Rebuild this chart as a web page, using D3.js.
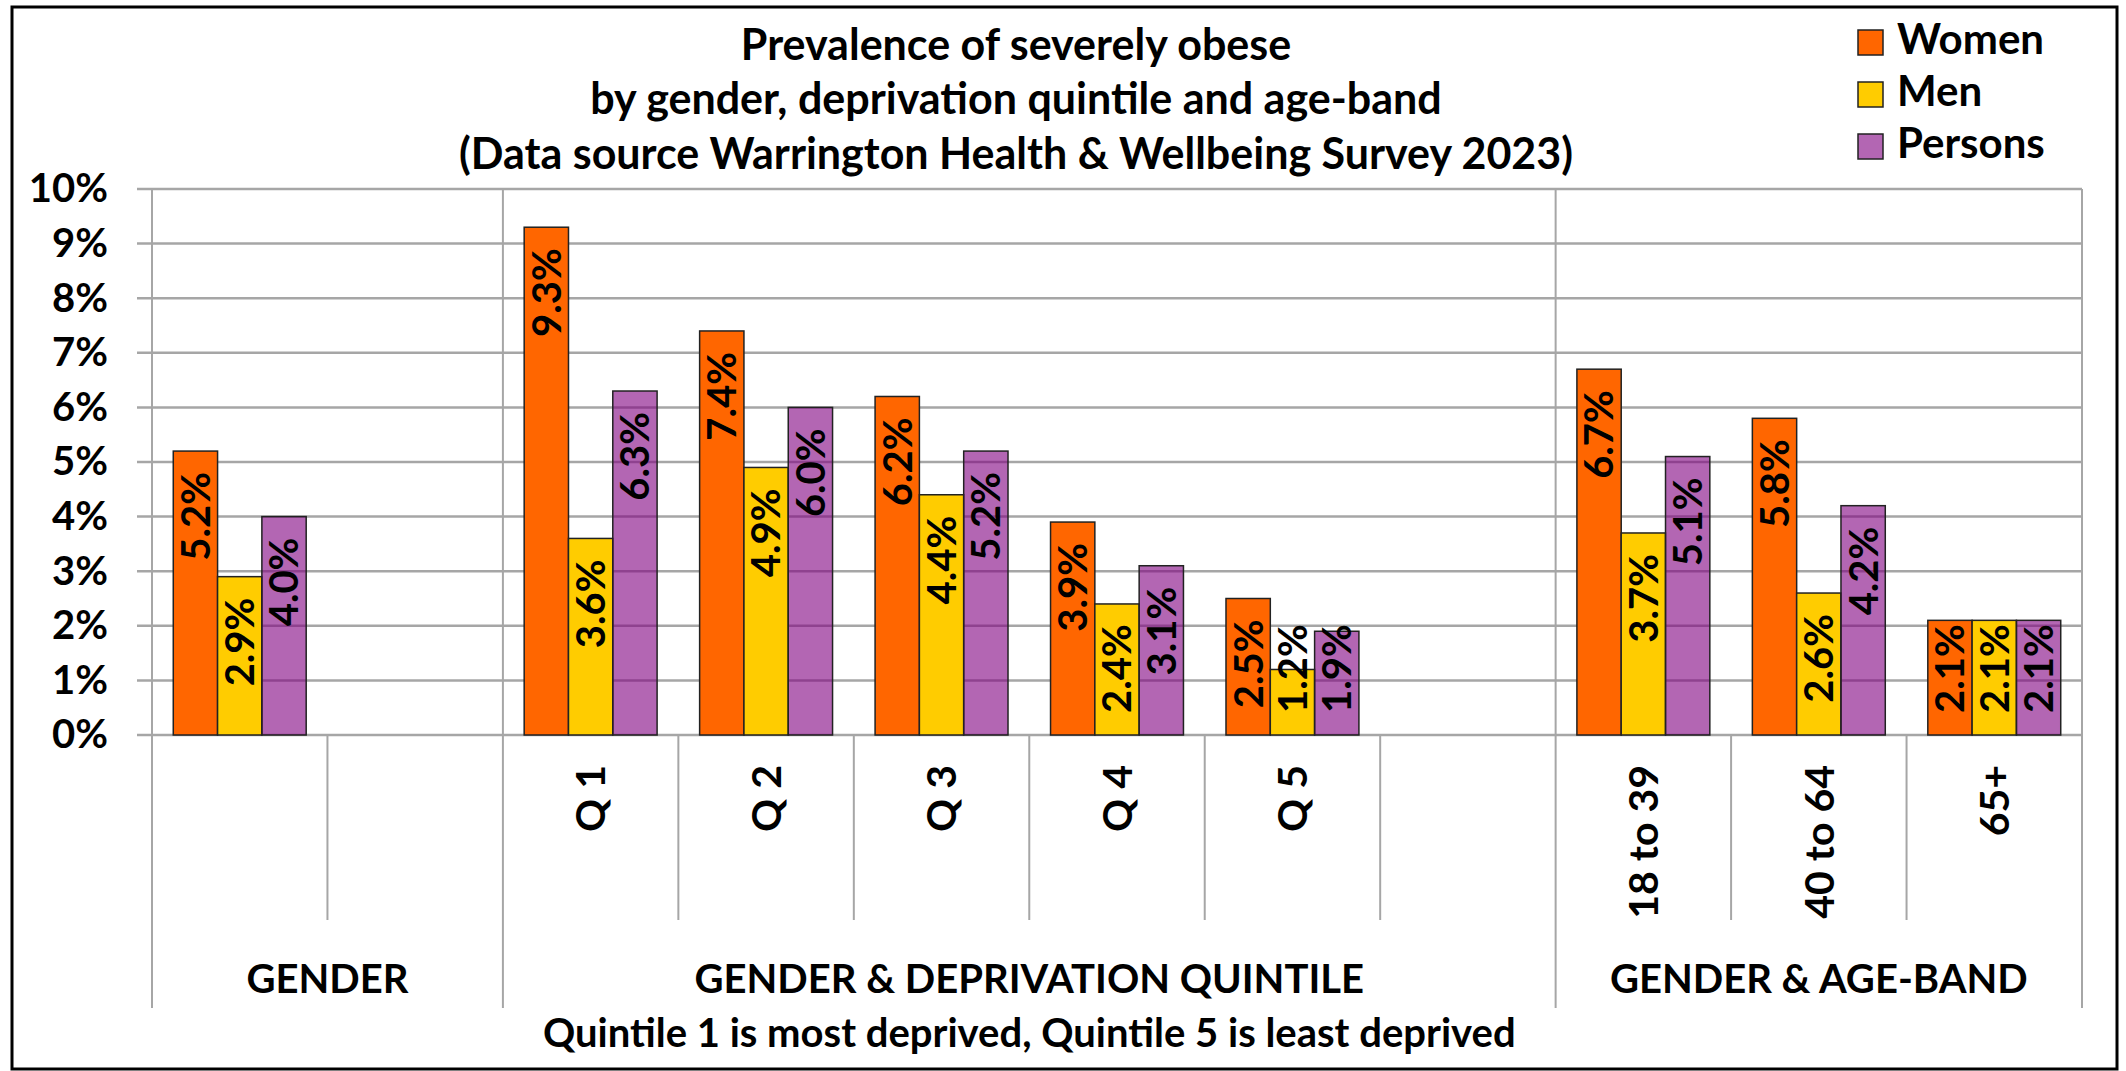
<!DOCTYPE html>
<html>
<head>
<meta charset="utf-8">
<script src="https://cdn.jsdelivr.net/npm/d3@7"></script>
<style>
  body { margin: 0; background: #fff; }
  svg { display: block; font-family: Lato, "Open Sans", sans-serif; font-weight: 700; }
</style>
</head>
<body>
<svg id="chart" width="2126" height="1071"></svg>
<script>
// x slots, including the two empty spacer columns
const slots = ["All", "gap1", "Q 1", "Q 2", "Q 3", "Q 4", "Q 5", "gap2", "18 to 39", "40 to 64", "65+"];
const slotLabels = ["", "", "Q 1", "Q 2", "Q 3", "Q 4", "Q 5", "", "18 to 39", "40 to 64", "65+"];

const categories = ["All", "Q 1", "Q 2", "Q 3", "Q 4", "Q 5", "18 to 39", "40 to 64", "65+"];
const women   = [5.2, 9.3, 7.4, 6.2, 3.9, 2.5, 6.7, 5.8, 2.1];
const men     = [2.9, 3.6, 4.9, 4.4, 2.4, 1.2, 3.7, 2.6, 2.1];
const persons = [4.0, 6.3, 6.0, 5.2, 3.1, 1.9, 5.1, 4.2, 2.1];

const seriesNames = ["Women", "Men", "Persons"];
const seriesColors = ["#ff6600", "#ffcc00", "rgba(128,0,128,0.6)"];

const groupNames = ["GENDER", "GENDER & DEPRIVATION QUINTILE", "GENDER & AGE-BAND"];
const groupFirst = ["All", "Q 1", "18 to 39"];
const groupLast  = ["gap1", "gap2", "65+"];

const titleLines = [
  "Prevalence of severely obese",
  "by gender, deprivation quintile and age-band",
  "(Data source Warrington Health & Wellbeing Survey 2023)"
];
const note = "Quintile 1 is most deprived, Quintile 5 is least deprived";

const series = seriesNames.map((name, i) => ({
  name: name,
  color: seriesColors[i],
  values: [women, men, persons][i]
}));

const svg = d3.select("#chart");

const x = d3.scaleBand().domain(slots).range([152, 2082]).padding(0);
const xs = d3.scaleBand().domain(seriesNames).range([0, x.bandwidth()])
  .paddingInner(0).paddingOuter(0.48);
const y = d3.scaleLinear().domain([0, 10]).range([735, 189]);

// outer border
svg.append("rect")
  .attr("x", 12).attr("y", 7).attr("width", 2105).attr("height", 1062)
  .attr("fill", "none").attr("stroke", "#000").attr("stroke-width", 3);

// gridlines
svg.append("g").selectAll("line")
  .data(y.ticks(10))
  .join("line")
  .attr("x1", 137).attr("x2", x.range()[1])
  .attr("y1", d => y(d)).attr("y2", d => y(d))
  .attr("stroke", "#a6a6a6").attr("stroke-width", 2.5);

// y axis labels
const yAxis = svg.append("g")
  .attr("transform", "translate(152,0)")
  .call(d3.axisLeft(y).ticks(10).tickSize(0).tickPadding(44).tickFormat(d => d + "%"));
yAxis.select(".domain").remove();
yAxis.attr("font-family", null).attr("font-size", 40);
yAxis.selectAll("text").attr("fill", "#000");

// vertical separators under the x axis
const bounds = slots.map(s => x(s)).concat([x.range()[1]]);
const groupEdges = groupFirst.map(s => x(s)).concat([x.range()[1]]);
svg.append("g").selectAll("line")
  .data(bounds)
  .join("line")
  .attr("x1", d => d).attr("x2", d => d)
  .attr("y1", d => groupEdges.includes(d) ? 189 : 735)
  .attr("y2", d => groupEdges.includes(d) ? 1008 : 920)
  .attr("stroke", "#a6a6a6").attr("stroke-width", 2);

// bars
const barG = svg.append("g");
series.forEach(s => {
  barG.append("g").selectAll("rect")
    .data(categories.map((c, i) => ({ cat: c, v: s.values[i] })))
    .join("rect")
    .attr("x", d => x(d.cat) + xs(s.name))
    .attr("width", xs.bandwidth())
    .attr("y", d => y(d.v))
    .attr("height", d => y(0) - y(d.v))
    .attr("fill", s.color)
    .attr("stroke", "#222").attr("stroke-width", 1.5);
});

// value labels, rotated, inside end
const labG = svg.append("g").attr("font-size", 40).attr("fill", "#000");
series.forEach(s => {
  categories.forEach((c, i) => {
    const v = s.values[i];
    const cx = x(c) + xs(s.name) + xs.bandwidth() / 2;
    const t = labG.append("text")
      .attr("text-anchor", "end")
      .attr("dy", "0.36em")
      .text(v.toFixed(1) + "%");
    const len = t.node().getComputedTextLength();
    const top = Math.min(y(v) + 21, y(0) - 22 - len);
    t.attr("transform", `translate(${cx},${top}) rotate(-90)`);
  });
});

// category labels
svg.append("g").attr("font-size", 41).selectAll("text")
  .data(slots.filter((s, i) => slotLabels[i] !== ""))
  .join("text")
  .attr("text-anchor", "end")
  .attr("dy", "0.36em")
  .attr("transform", d => `translate(${x(d) + x.bandwidth() / 2},765) rotate(-90)`)
  .text(d => slotLabels[slots.indexOf(d)]);

// group labels
svg.append("g").attr("font-size", 40).attr("text-anchor", "middle").selectAll("text")
  .data(groupNames)
  .join("text")
  .attr("x", (d, i) => (x(groupFirst[i]) + x(groupLast[i]) + x.bandwidth()) / 2)
  .attr("y", 993)
  .text(d => d);

svg.append("text")
  .attr("font-size", 40).attr("text-anchor", "middle")
  .attr("x", (x(groupFirst[1]) + x(groupLast[1]) + x.bandwidth()) / 2)
  .attr("y", 1047)
  .text(note);

// title
svg.append("g").attr("font-size", 43).attr("text-anchor", "middle").selectAll("text")
  .data(titleLines)
  .join("text")
  .attr("x", 1016)
  .attr("y", (d, i) => [60, 114, 169][i])
  .text(d => d);

// legend
const leg = svg.append("g").attr("transform", "translate(1858,0)");
const legItem = leg.selectAll("g")
  .data(series)
  .join("g")
  .attr("transform", (d, i) => `translate(0,${30 + i * 52})`);
legItem.append("rect")
  .attr("width", 25).attr("height", 25)
  .attr("fill", d => d.color)
  .attr("stroke", "#222").attr("stroke-width", 1.5);
legItem.append("text")
  .attr("x", 39).attr("y", 24)
  .attr("font-size", 42)
  .text(d => d.name);
</script>
</body>
</html>
